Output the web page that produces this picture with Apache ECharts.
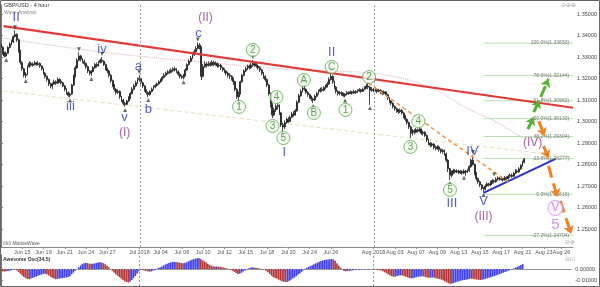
<!DOCTYPE html>
<html><head><meta charset="utf-8">
<script src="https://cdn.jsdelivr.net/npm/echarts@6/dist/echarts.min.js"></script>
<style>html,body{margin:0;padding:0;background:#fff}#c{width:600px;height:287px}</style>
</head><body><div id="c"></div>
<script>
// ---------- DATA (prices in pips above 1.0000, i.e. 3345 -> 1.3345) ----------
const firstOpen = 3360;
const closes = [
3345,3320,3305,3318,3345,3360,3370,3395,3405,3380,
3330,3275,3245,3215,3220,3255,3270,3262,3268,3272,
3265,3270,3258,3245,3225,3210,3195,3175,3165,3175,
3185,3178,3195,3188,3180,3165,3150,3135,3122,3128,
3170,3210,3250,3285,3305,3290,3280,3270,3255,3235,
3225,3232,3250,3265,3258,3275,3285,3280,3265,3245,
3235,3215,3190,3170,3150,3135,3140,3115,3100,3085,
3080,3095,3110,3130,3150,3165,3180,3195,3200,3180,
3165,3145,3135,3125,3140,3150,3160,3168,3175,3185,
3195,3205,3215,3225,3232,3228,3238,3245,3240,3232,
3220,3210,3205,3215,3240,3265,3280,3295,3310,3325,
3340,3355,3345,3210,3255,3268,3260,3270,3262,3275,
3265,3270,3258,3262,3250,3240,3235,3225,3215,3210,
3200,3185,3150,3115,3130,3185,3215,3235,3245,3258,
3250,3262,3270,3262,3258,3250,3240,3225,3210,3195,
3170,3130,3080,3030,3055,3070,3075,3040,2985,2975,
2995,3010,3000,3020,3035,3030,3050,3090,3120,3140,
3155,3150,3135,3125,3115,3105,3100,3118,3130,3140,
3150,3145,3158,3165,3175,3195,3210,3185,3160,3140,
3130,3135,3128,3120,3128,3135,3130,3138,3132,3140,
3135,3142,3148,3140,3150,3158,3165,3160,3145,3150,
3142,3150,3140,3145,3135,3130,3138,3125,3110,3095,
3085,3070,3060,3050,3045,3052,3040,3025,3010,2995,
2975,2945,2958,2950,2962,2955,2965,2945,2950,2935,
2915,2900,2890,2895,2880,2875,2882,2870,2860,2865,
2850,2820,2780,2750,2765,2772,2765,2770,2762,2768,
2760,2770,2765,2772,2790,2820,2800,2760,2735,2720,
2705,2690,2685,2700,2710,2705,2718,2725,2720,2732,
2738,2730,2735,2728,2740,2735,2745,2750,2745,2760,
2770,2765,2780,2795,2810,2825];
const highs = [
3372,3350,3325,3325,3350,3368,3380,3400,3425,3410,
3385,3335,3280,3250,3230,3262,3280,3278,3275,3282,
3278,3280,3275,3262,3250,3230,3215,3200,3180,3182,
3195,3192,3205,3200,3198,3185,3170,3155,3140,3135,
3175,3218,3260,3295,3322,3310,3295,3288,3275,3260,
3240,3240,3258,3272,3275,3282,3292,3300,3285,3270,
3250,3240,3220,3195,3175,3155,3150,3145,3120,3105,
3092,3100,3118,3138,3160,3175,3190,3205,3216,3205,
3185,3170,3150,3140,3145,3158,3168,3175,3182,3192,
3200,3212,3225,3232,3240,3242,3248,3252,3255,3248,
3238,3228,3218,3222,3248,3270,3290,3305,3320,3335,
3350,3368,3365,3350,3268,3280,3275,3280,3278,3285,
3282,3280,3275,3270,3268,3255,3248,3240,3232,3225,
3215,3205,3190,3155,3140,3190,3222,3242,3255,3265,
3265,3272,3286,3278,3272,3265,3258,3245,3230,3215,
3200,3175,3135,3085,3065,3080,3086,3080,3045,2995,
3005,3018,3020,3028,3045,3048,3058,3098,3128,3150,
3165,3170,3155,3142,3130,3120,3112,3125,3138,3148,
3158,3160,3165,3172,3185,3205,3226,3215,3190,3165,
3145,3142,3140,3135,3132,3142,3140,3145,3142,3148,
3145,3150,3155,3152,3158,3165,3175,3184,3165,3160,
3155,3158,3155,3152,3150,3142,3145,3140,3130,3115,
3100,3090,3075,3065,3058,3060,3058,3045,3030,3015,
3000,2980,2965,2965,2970,2968,2975,2968,2958,2955,
2940,2920,2905,2902,2900,2888,2890,2888,2875,2872,
2870,2855,2825,2785,2772,2780,2778,2778,2775,2775,
2772,2778,2775,2780,2798,2828,2844,2805,2765,2740,
2725,2710,2695,2708,2718,2715,2725,2732,2730,2740,
2745,2742,2742,2740,2746,2745,2752,2758,2758,2766,
2778,2778,2788,2802,2818,2830];
const lows = [
3330,3310,3298,3300,3315,3340,3355,3365,3390,3370,
3320,3265,3235,3205,3202,3215,3250,3255,3255,3260,
3258,3260,3250,3238,3218,3200,3185,3165,3155,3150,
3170,3170,3175,3180,3172,3160,3140,3125,3115,3112,
3125,3165,3205,3245,3280,3280,3270,3260,3245,3225,
3215,3212,3228,3245,3250,3255,3270,3272,3258,3238,
3225,3205,3180,3160,3140,3125,3128,3105,3090,3075,
3068,3075,3090,3105,3125,3145,3160,3175,3185,3172,
3155,3138,3125,3114,3120,3135,3145,3155,3162,3170,
3180,3190,3200,3210,3218,3220,3225,3230,3232,3225,
3212,3200,3198,3196,3210,3235,3260,3275,3290,3305,
3320,3335,3335,3193,3205,3250,3250,3255,3255,3258,
3258,3260,3250,3252,3240,3232,3225,3215,3205,3198,
3190,3170,3140,3105,3100,3125,3180,3210,3230,3240,
3242,3245,3255,3255,3250,3240,3230,3215,3198,3185,
3160,3120,3065,3016,3025,3045,3055,3030,2975,2951,
2965,2990,2992,2998,3015,3022,3028,3045,3085,3115,
3135,3142,3128,3115,3105,3095,3086,3095,3112,3125,
3135,3138,3140,3150,3158,3170,3190,3175,3150,3130,
3120,3122,3120,3115,3112,3122,3124,3128,3125,3130,
3128,3132,3138,3134,3138,3145,3152,3150,3077,3138,
3135,3138,3132,3135,3128,3122,3125,3118,3100,3085,
3075,3060,3050,3040,3035,3040,3032,3015,3000,2985,
2965,2923,2935,2940,2945,2948,2950,2938,2935,2928,
2905,2890,2880,2882,2870,2865,2868,2860,2852,2850,
2840,2810,2765,2728,2740,2755,2758,2760,2755,2756,
2752,2755,2748,2760,2765,2785,2795,2750,2725,2710,
2695,2680,2672,2680,2695,2698,2700,2710,2712,2715,
2725,2724,2726,2720,2725,2728,2730,2738,2738,2742,
2755,2758,2762,2775,2790,2805];
// Awesome Oscillator, in pips (0.0001)
const aoValues = [
-15,-20,-22,-20,-18,-15,-10,-5,-5,-10,
-25,-40,-55,-68,-78,-85,-88,-82,-76,-70,
-64,-58,-52,-47,-42,-40,-45,-55,-65,-75,
-82,-88,-86,-82,-80,-78,-75,-72,-68,-62,
-45,-30,-15,0,15,30,42,50,52,50,
46,44,45,48,52,55,57,56,50,40,
28,15,0,-15,-30,-45,-58,-70,-82,-95,
-105,-112,-116,-110,-95,-78,-60,-40,-20,-5,
-8,-12,-16,-20,-22,-20,-15,-8,0,8,
15,22,30,38,45,52,57,60,62,60,
57,54,51,50,52,58,65,72,78,84,
88,92,93,85,75,65,55,45,35,28,
24,22,22,20,18,15,12,8,4,0,
-8,-15,-25,-35,-42,-40,-32,-22,-12,-3,
5,10,15,12,10,8,5,2,0,-8,
-15,-28,-42,-58,-68,-76,-82,-90,-98,-105,
-110,-112,-110,-102,-92,-82,-72,-62,-50,-38,
-25,-12,3,10,18,25,32,40,48,55,
62,68,73,77,80,82,84,85,83,70,
50,30,12,-5,-18,-20,-18,-15,-12,-10,
-8,-6,-5,-4,-3,-2,-1,1,2,0,
-2,-4,-6,-8,-10,-12,-20,-28,-36,-45,
-54,-62,-67,-64,-60,-56,-54,-56,-60,-66,
-72,-78,-80,-78,-74,-70,-66,-64,-62,-64,
-68,-72,-75,-74,-72,-74,-78,-82,-86,-90,
-96,-104,-114,-122,-126,-125,-120,-115,-110,-105,
-100,-96,-94,-92,-88,-84,-82,-84,-87,-90,
-92,-93,-92,-88,-84,-80,-75,-70,-65,-60,
-55,-50,-44,-38,-32,-26,-20,-14,-8,-2,
5,12,19,26,35,44];

const xTickIdx = [12,24,36,48,60,78,90,102,114,126,138,150,162,174,186,210,222,234,246,258,270,282,294,306,316];
const xTickLbl = ['Jun 15','Jun 19','Jun 21','Jun 24','Jun 27','Jul 2018','Jul 04','Jul 08','Jul 10','Jul 12','Jul 15','Jul 18','Jul 20','Jul 24','Jul 26','Aug 2018','Aug 03','Aug 07','Aug 09','Aug 13','Aug 15','Aug 17','Aug 21','Aug 23','Aug 26'];
const priceTicks = [1.25,1.26,1.27,1.28,1.29,1.30,1.31,1.32,1.33,1.34,1.35];
const aoTicks = [0,-0.01];
const monthLines = [78.3,210.6];
const priceBoxes = [1.2825,1.2787,1.2759];

const fibNames = ['100.0%','78.6%','61.8%','50.0%','38.2%','23.6%','0.0%','-27.2%'];
const fibLevels = [1.33650,1.32144,1.30963,1.30133,1.29304,1.28277,1.26616,1.24704];
const fibStart = 272;

const redTrend = [[1.4,1.3444],[322.5,1.3064]];
const blueTrend = [[272,1.2668],[312.6,1.2826]];
const orangeTrend = [[207,1.3179],[285.9,1.2719]];
const pinkMA = [[1.4,1.3388],[57,1.3323],[112.5,1.3277],[168,1.3240],[212.5,1.3221],[240,1.3165],[262.5,1.3063],[279,1.2998],[296,1.2914]];
const tanLine = [[1.4,1.3142],[322.5,1.2835]];
const greenArrows = [[[297.0,1.2965],[300.3,1.3021]],[[300.3,1.3044],[303.6,1.3100]],[[304.2,1.3114],[308.6,1.3198]]];
const orangeArrows = [[[303.1,1.3002],[306.4,1.2933]],[[305.8,1.2886],[308.6,1.2830]],[[308.6,1.2793],[313.6,1.2649]],[[315.3,1.2630],[321.4,1.2477]]];

const waveLabels = [
 [8.6,1.3486,'II','blue'],[39.2,1.3072,'iii','blue'],[57,1.3333,'iv','blue'],[69.7,1.3021,'v','blue'],
 [69.7,1.2947,'(I)','purple'],[77.5,1.3254,'a','blue'],[83.1,1.3054,'b','blue'],[111.4,1.3412,'c','blue'],
 [115.3,1.3481,'(II)','purple'],[159.7,1.2858,'I','blue'],[186.4,1.3323,'II','blue'],[254.2,1.2621,'III','blue'],
 [265.8,1.2863,'IV','blue'],[272,1.2630,'V','blue'],[272,1.2556,'(III)','purple'],[299.7,1.2900,'(IV)','purple'],
 [312.5,1.2519,'5','lav']];
const circleLabels = [
 [134.2,1.3068,'1'],[142,1.3333,'2'],[153.1,1.2979,'3'],[155.3,1.3114,'4'],[159.2,1.2923,'5'],
 [170.8,1.3193,'A'],[176.4,1.3040,'B'],[186.4,1.3254,'C'],[194.2,1.3054,'1'],[207.5,1.3207,'2'],
 [230.8,1.2882,'3'],[235.3,1.3002,'4'],[253.1,1.2682,'5']];
const lavCircle = [[312.5,1.2598,'V']];
const lowMarks = [[3,1.3300],[14,1.3202],[39,1.3112],[51,1.3212],[70,1.3068],[83,1.3114],[103,1.3196],[134,1.3100],[159,1.2951],[176,1.3086],[194,1.3112],[208,1.3077],[253,1.2728],[261,1.2752],[272,1.2672]];
const highMarks = [[8,1.3425],[44,1.3322],[57,1.3300],[78,1.3216],[111,1.3368],[142,1.3286],[171,1.3170],[186,1.3226],[207,1.3184],[266,1.2844],[278,1.2740]];

// ---------- CHART ----------
const NCAT = 323;
const cats = Array.from({length:NCAT},(_,i)=>String(i));
const tickMap = {}; xTickIdx.forEach((ix,k)=>{tickMap[ix]=xTickLbl[k];});
const tickFn = (idx)=> tickMap[idx]!==undefined;
const toP = v => 1 + v/10000;
const candleData = closes.map((c,i)=>[toP(i===0?firstOpen:closes[i-1]), toP(c), toP(lows[i]), toP(highs[i])]);
const BLUE_AO='#4040ee', RED_AO='#b43636';
const aoData = aoValues.map((v,i)=>({value:v/10000,itemStyle:{color:(i>0 && v<aoValues[i-1])?RED_AO:BLUE_AO}}));

const C_BLUE='#2a32b0', C_PURPLE='#8a3a8e', C_LAV='#c27ad6';
const FONT='Liberation Sans, Arial, sans-serif';
const GL=-3.42, GW=581.2;

const lineS = (name,data,style,extra)=>Object.assign({type:'line',name,xAxisIndex:1,yAxisIndex:0,data,symbol:'none',silent:true,animation:false,lineStyle:style,z:3},extra||{});

const series = [
 {type:'candlestick',xAxisIndex:0,yAxisIndex:0,data:candleData,barWidth:1.4,animation:false,silent:true,
  itemStyle:{color:'#1e1e1e',color0:'#1e1e1e',borderColor:'#1a1a1a',borderColor0:'#1a1a1a',borderWidth:0.8},z:2},
 lineS('ma',pinkMA,{color:'#dbb4b4',width:1,type:'dotted'},{smooth:0.4,z:1}),
 lineS('tan',tanLine,{color:'#e8dfb8',width:1,type:[4,3]},{z:1}),
 lineS('red',redTrend,{color:'#e23a35',width:2.2}),
 lineS('blue',blueTrend,{color:'#2a30c8',width:2}),
 lineS('orange',orangeTrend,{color:'#f0914a',width:1.5,type:[4,3]}),
];
fibLevels.forEach((lv,k)=>{
 series.push(lineS('fib'+k,[[fibStart,lv],[322.5,lv]],{color:'#b9dfae',width:1},{z:1}));
});
series.push({type:'scatter',xAxisIndex:1,yAxisIndex:0,symbolSize:0,silent:true,animation:false,z:4,
 data:fibLevels.map((lv,k)=>({value:[320.8,lv],name:fibNames[k]})),
 label:{show:true,position:'left',distance:1,fontSize:5,fontFamily:FONT,color:'#555',
  formatter:p=>p.name+'('+p.value[1].toFixed(5)+')'}});
const arrowItems = [];
greenArrows.forEach(a=>arrowItems.push([{coord:a[0],symbol:'none',lineStyle:{color:'#52b032',width:3}},{coord:a[1],symbol:'arrow',symbolSize:8}]));
orangeArrows.forEach(a=>arrowItems.push([{coord:a[0],symbol:'none',lineStyle:{color:'#f08020',width:3}},{coord:a[1],symbol:'arrow',symbolSize:8}]));
series.push({type:'line',xAxisIndex:1,yAxisIndex:0,data:[],silent:true,animation:false,z:5,
 markLine:{silent:true,animation:false,symbol:['none','none'],label:{show:false},data:arrowItems}});
series.push({type:'line',xAxisIndex:1,yAxisIndex:0,data:[],silent:true,animation:false,z:1,
 markLine:{silent:true,animation:false,symbol:['none','none'],label:{show:false},
  lineStyle:{color:'#9a9a9a',width:1,type:[2,2]},data:monthLines.map(v=>({xAxis:v}))}});
series.push({type:'line',xAxisIndex:3,yAxisIndex:1,data:[],silent:true,animation:false,z:1,
 markLine:{silent:true,animation:false,symbol:['none','none'],label:{show:false},
  lineStyle:{color:'#9a9a9a',width:1,type:[2,2]},data:monthLines.map(v=>({xAxis:v})).concat([{yAxis:0,lineStyle:{color:'#aaa',type:[1,2]}}])}});
const boxStyles = [{backgroundColor:'#3b4792',color:'#fff'},{backgroundColor:'#c94545',color:'#fff'},{backgroundColor:'#fff',color:'#333',borderColor:'#555',borderWidth:0.6}];
series.push({type:'line',xAxisIndex:1,yAxisIndex:0,data:[],silent:true,animation:false,z:6,
 markLine:{silent:true,animation:false,symbol:['none','none'],lineStyle:{opacity:0},
  data:priceBoxes.map((v,k)=>({yAxis:v,label:Object.assign({show:true,position:'end',distance:3,fontSize:5.5,fontFamily:FONT,padding:[1,2],formatter:()=>v.toFixed(5)},boxStyles[k])}))}});
series.push({type:'scatter',xAxisIndex:1,yAxisIndex:0,symbol:'triangle',symbolSize:4,symbolOffset:[0,3],silent:true,animation:false,z:4,
 itemStyle:{color:'#2d4f2d'},data:lowMarks});
series.push({type:'scatter',xAxisIndex:1,yAxisIndex:0,symbol:'triangle',symbolRotate:180,symbolSize:4,symbolOffset:[0,-3],silent:true,animation:false,z:4,
 itemStyle:{color:'#2d4f2d'},data:highMarks});
const kindStyle = {blue:{color:C_BLUE,fontSize:13},purple:{color:C_PURPLE,fontSize:12},lav:{color:C_LAV,fontSize:15}};
series.push({type:'scatter',xAxisIndex:1,yAxisIndex:0,symbolSize:0,silent:true,animation:false,z:7,
 data:waveLabels.map(w=>({value:[w[0],w[1]],name:w[2],label:Object.assign({show:true,position:'inside',fontFamily:FONT,formatter:w[2]},kindStyle[w[3]])}))});
series.push({type:'scatter',xAxisIndex:1,yAxisIndex:0,symbol:'circle',symbolSize:13,silent:true,animation:false,z:7,
 itemStyle:{color:'#f3faee',borderColor:'#5aa84a',borderWidth:1},
 label:{show:true,position:'inside',fontSize:10,fontFamily:FONT,color:'#3a8c2e',formatter:p=>p.data.name},
 data:circleLabels.map(c=>({value:[c[0],c[1]],name:c[2]}))});
series.push({type:'scatter',xAxisIndex:1,yAxisIndex:0,symbol:'circle',symbolSize:15,silent:true,animation:false,z:7,
 itemStyle:{color:'#fbf3fd',borderColor:'#c98adb',borderWidth:1},
 label:{show:true,position:'inside',fontSize:12,fontFamily:FONT,color:C_LAV,formatter:p=>p.data.name},
 data:lavCircle.map(c=>({value:[c[0],c[1]],name:c[2]}))});
series.push({type:'bar',xAxisIndex:2,yAxisIndex:1,data:aoData,barWidth:1.6,silent:true,animation:false,z:2});
series.push({type:'line',xAxisIndex:3,yAxisIndex:1,data:[],silent:true,animation:false,z:6,
 markLine:{silent:true,animation:false,symbol:['none','none'],lineStyle:{opacity:0},
  data:[{yAxis:aoValues[aoValues.length-1]/10000,label:{show:true,position:'end',distance:3,fontSize:5.5,fontFamily:FONT,padding:[1,2],
   backgroundColor:'#e8ecf6',borderColor:'#56609a',borderWidth:0.6,color:'#222',formatter:()=>(aoValues[aoValues.length-1]/10000).toFixed(5)}}]}});

const option = {
 backgroundColor:'#fff',
 animation:false,
 textStyle:{fontFamily:FONT},
 grid:[{left:GL,width:GW,top:5,height:242},{left:GL,width:GW,top:255,height:31}],
 xAxis:[
  {type:'category',gridIndex:0,data:cats,boundaryGap:true,
   axisLine:{show:true,lineStyle:{color:'#8a8a8a',width:1}},
   axisTick:{show:true,interval:tickFn,alignWithLabel:true,length:2,lineStyle:{color:'#8a8a8a'}},
   axisLabel:{interval:tickFn,formatter:(v,idx)=>tickMap[idx]||'',fontSize:5.5,color:'#555',margin:2,fontFamily:FONT},
   splitLine:{show:false}},
  {type:'value',gridIndex:0,min:-0.5,max:322.5,show:false},
  {type:'category',gridIndex:1,data:cats,boundaryGap:true,position:'top',
   axisLine:{show:true,lineStyle:{color:'#8a8a8a'}},axisTick:{show:false},axisLabel:{show:false},splitLine:{show:false}},
  {type:'value',gridIndex:1,min:-0.5,max:322.5,show:false}
 ],
 yAxis:[
  {type:'value',gridIndex:0,position:'right',min:1.24163,max:1.35419,scale:true,
   axisLine:{show:true,lineStyle:{color:'#777'}},
   axisTick:{show:true,customValues:priceTicks,length:2,lineStyle:{color:'#777'}},
   axisLabel:{customValues:priceTicks,formatter:v=>v.toFixed(5),fontSize:5.5,color:'#444',margin:4,fontFamily:FONT},
   splitLine:{show:false}},
  {type:'value',gridIndex:1,position:'right',min:-0.01453,max:0.011966,
   axisLine:{show:true,lineStyle:{color:'#777'}},
   axisTick:{show:true,customValues:aoTicks,length:2},
   axisLabel:{customValues:aoTicks,formatter:v=>v.toFixed(5),fontSize:5.5,color:'#444',margin:4,fontFamily:FONT},
   splitLine:{show:false}}
 ],
 graphic:[
  {type:'text',left:4,top:2,style:{text:'GBP/USD - 4 hour',fontSize:5.5,fill:'#333',fontFamily:FONT}},
  {type:'text',left:4,top:10,style:{text:'Wave Analysis',fontSize:5,fill:'#888',fontFamily:FONT}},
  {type:'text',left:3,top:241,style:{text:'⊡⊡ MotiveWave',fontSize:5,fill:'#555',fontFamily:FONT}},
  {type:'text',left:3,top:257,style:{text:'Awesome Osc(34,5)',fontSize:5,fontWeight:'bold',fill:'#333',fontFamily:FONT}},
  {type:'text',left:561,top:2,style:{text:'⊖⊕⊕',fontSize:6,fill:'#aaa'}},
  {type:'text',left:565,top:239,style:{text:'⊖⊕',fontSize:6,fill:'#aaa'}},
  {type:'text',left:565,top:256,style:{text:'⊖⊡',fontSize:6,fill:'#aaa'}},
  {type:'rect',shape:{x:0.5,y:0.5,width:599,height:286},style:{fill:'none',stroke:'#666',lineWidth:1},silent:true,z:100}
 ],
 series
};
const chart = echarts.init(document.getElementById('c'),null,{renderer:'canvas'});
chart.setOption(option);
</script></body></html>
